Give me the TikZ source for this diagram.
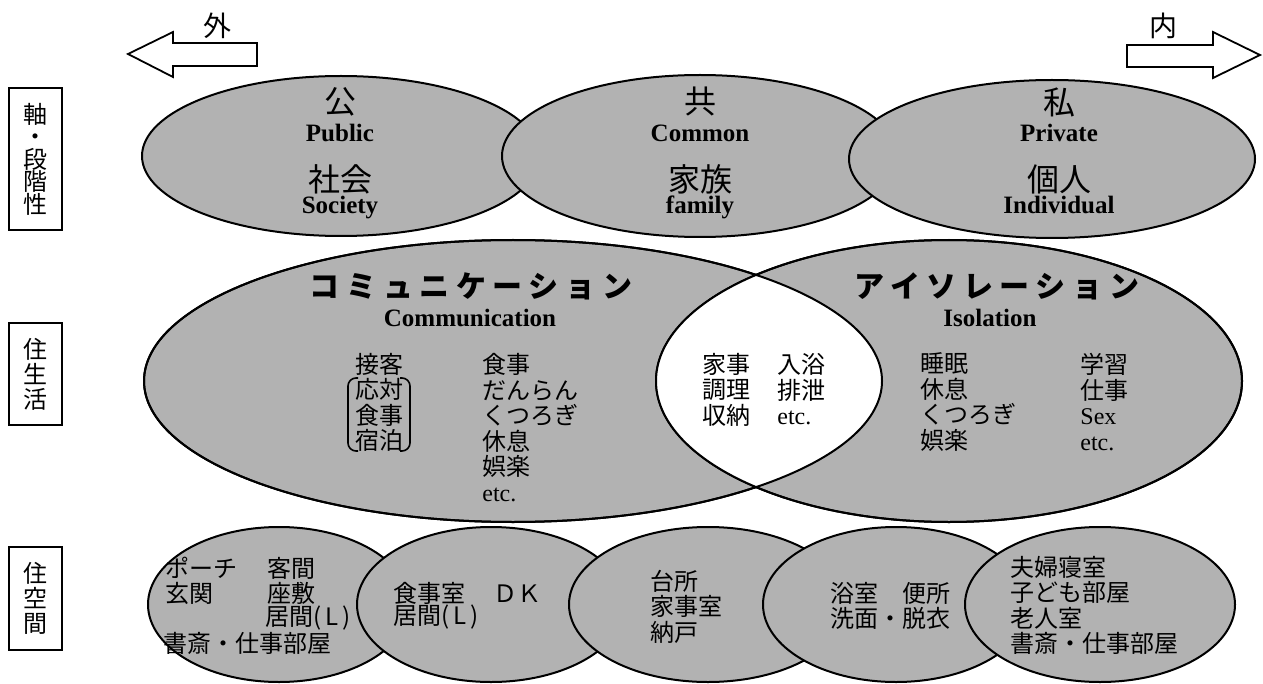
\documentclass[tikz,border=0pt]{standalone}
\usepackage{fontspec}
\setmainfont{Liberation Serif}
\newfontfamily\jp{Noto Sans CJK JP}
\newfontfamily\jpwide[LetterSpace=22]{Noto Sans CJK JP}
\usetikzlibrary{shapes.geometric}
\definecolor{shade}{gray}{0.7}
\begin{document}
\begin{tikzpicture}[x=0.5pt,y=-0.5pt,
  ell/.style={ellipse,draw,line width=1pt,fill=shade,inner sep=0pt},
  lab/.style={draw,line width=1.1pt,inner sep=0pt,minimum width=26.5pt,align=center,font=\jp\fontsize{12pt}{12.5pt}\selectfont},
  jt/.style={inner sep=0pt,align=left,font=\jp\fontsize{12pt}{12.75pt}\selectfont},
  big/.style={inner sep=0pt,font=\jp\fontsize{16pt}{17pt}\selectfont},
  en/.style={inner sep=0pt,anchor=base,font=\bfseries\fontsize{12.5pt}{13pt}\selectfont},
  kata/.style={inner sep=0pt,font=\jpwide\bfseries\fontsize{15pt}{16pt}\selectfont},
  arr/.style={draw,line width=0.9pt,fill=white}]
\useasboundingbox (0,0) rectangle (1263,684);

% direction arrows
\draw[arr] (257,43) -- (173,43) -- (173,32) -- (128,54) -- (173,77) -- (173,66) -- (257,66) -- cycle;
\draw[arr] (1127,45) -- (1213,45) -- (1213,32) -- (1260,55) -- (1213,78) -- (1213,67) -- (1127,67) -- cycle;
\node[inner sep=0pt,font=\jp\fontsize{14pt}{15pt}\selectfont] (soto) at (217,26) {外};
\node[inner sep=0pt,font=\jp\fontsize{14pt}{15pt}\selectfont] (uchi) at (1163,26) {内};

% left labels
\node[lab,minimum height=71pt,font=\jp\fontsize{12pt}{11.25pt}\selectfont] (axis) at (35.5,159) {軸\\・\\段\\階\\性};
\node[lab,minimum height=51pt] (life) at (35.5,374) {住\\生\\活};
\node[lab,minimum height=51.5pt] (space) at (35.5,598.5) {住\\空\\間};

% top row
\node[ell,minimum width=199pt,minimum height=80pt] (pub) at (341,156) {};
\node[ell,minimum width=198pt,minimum height=81pt] (com) at (700,156) {};
\node[ell,minimum width=203pt,minimum height=79pt] (pri) at (1052,159) {};

\node[big] (kou) at (340,102) {公};
\node[en] (public) at (340,142) {Public};
\node[big] (shakai) at (340,179) {社会};
\node[en] (society) at (340,214) {Society};

\node[big] (kyou) at (700,102) {共};
\node[en] (common) at (700,142) {Common};
\node[big] (kazoku) at (700,179) {家族};
\node[en] (family) at (700,214) {family};

\node[big] (watashi) at (1059,102) {私};
\node[en] (private) at (1059,142) {Private};
\node[big] (kojin) at (1059,179) {個人};
\node[en] (indiv) at (1059,214) {Individual};

% middle row
\node[ell,minimum width=369pt,minimum height=141pt] (comm) at (513,381) {};
\node[ell,minimum width=293pt,minimum height=141pt] (iso) at (949,381) {};
\begin{scope}
  \clip (comm.center) ellipse [x radius=184.5pt, y radius=70.5pt];
  \fill[white] (iso.center) ellipse [x radius=146.5pt, y radius=70.5pt];
\end{scope}
\draw[line width=1pt] (comm.center) ellipse [x radius=184.5pt, y radius=70.5pt];
\draw[line width=1pt] (iso.center) ellipse [x radius=146.5pt, y radius=70.5pt];

\node[kata] (komyu) at (471,286) {コミュニケーション};
\node[en] (commun) at (470,326) {Communication};
\node[kata] (aiso) at (997,286) {アイソレーション};
\node[en] (isol) at (990,326) {Isolation};

\node[jt,anchor=west] (c1) at (355,402.25) {接客\\応対\\食事\\宿泊};
\draw[line width=0.8pt,rounded corners=4pt] (358,378) -- (348,378) -- (348,451) -- (358,451);
\draw[line width=0.8pt,rounded corners=4pt] (400,378) -- (410,378) -- (410,451) -- (400,451);
\node[jt,anchor=west] (c2) at (482,427.75) {食事\\だんらん\\くつろぎ\\休息\\娯楽\\{\rmfamily etc.}};

\node[jt,anchor=west] (l1) at (702,389.5) {家事\\調理\\収納};
\node[jt,anchor=west] (l2) at (777,389.5) {入浴\\排泄\\{\rmfamily etc.}};

\node[jt,anchor=west] (i1) at (920,402.25) {睡眠\\休息\\くつろぎ\\娯楽};
\node[jt,anchor=west] (i2) at (1080,402.25) {学習\\仕事\\{\rmfamily Sex}\\{\rmfamily etc.}};

% bottom row
\node[ell,minimum width=131pt,minimum height=77.5pt] (b1) at (279,604.5) {};
\node[ell,minimum width=134pt,minimum height=77.5pt] (b2) at (491,604.5) {};
\node[ell,minimum width=139pt,minimum height=77.5pt] (b3) at (708,604.5) {};
\node[ell,minimum width=133pt,minimum height=77.5pt] (b4) at (896,604.5) {};
\node[ell,minimum width=135pt,minimum height=77.5pt] (b5) at (1100,604.5) {};

\node[jt,anchor=west] (t1a) at (165,568) {ポーチ};
\node[jt,anchor=west] (t1b) at (267,568) {客間};
\node[jt,anchor=west] (t1c) at (165,593) {玄関};
\node[jt,anchor=west] (t1d) at (267,593) {座敷};
\node[jt,anchor=west] (t1e) at (265,618) {居間(\,L\,)};
\node[jt,anchor=west] (t1f) at (163,643) {書斎・仕事部屋};

\node[jt,anchor=west] (t2a) at (393,593) {食事室　\,ＤＫ};
\node[jt,anchor=west] (t2b) at (393,617) {居間(\,L\,)};

\node[jt,anchor=west] (t3) at (650,606.5) {台所\\家事室\\納戸};

\node[jt,anchor=west] (t4a) at (830,593) {浴室　便所};
\node[jt,anchor=west] (t4b) at (830,618) {洗面・脱衣};

\node[jt,anchor=west] (t5) at (1010,605.5) {夫婦寝室\\子ども部屋\\老人室\\書斎・仕事部屋};
\end{tikzpicture}
\end{document}
